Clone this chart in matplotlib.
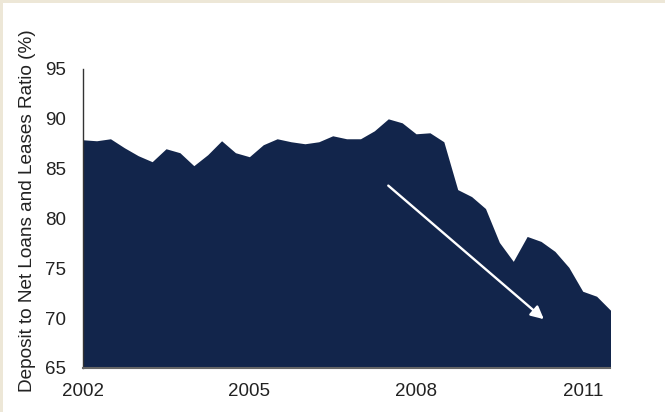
import matplotlib
matplotlib.use("Agg")
import matplotlib.pyplot as plt
from matplotlib.patches import Rectangle
import numpy as np

# Quarterly observations, 2002 Q1 .. 2011 Q3
values = [87.9, 87.8, 88.0, 87.1, 86.3, 85.7, 87.0, 86.6, 85.3, 86.4,
          87.8, 86.6, 86.2, 87.4, 88.0, 87.7, 87.5, 87.7, 88.3, 88.0,
          88.0, 88.8, 90.0, 89.6, 88.5, 88.6, 87.7, 82.9, 82.2, 81.0,
          77.6, 75.7, 78.2, 77.7, 76.7, 75.1, 72.7, 72.2, 70.8]
tick_labels = ["2002", "2005", "2008", "2011"]
tick_index = [0, 12, 24, 36]
ylabel = "Deposit to Net Loans and Leases Ratio (%)"
arrow_start = (22, 83.3)
arrow_end = (33.2, 69.9)

plt.rcParams['font.family'] = ['Liberation Sans', 'DejaVu Sans']

fig = plt.figure(figsize=(6.65, 4.12), dpi=100)
fig.patch.set_facecolor('white')
# beige frame strips (top and left)
fig.patches.append(Rectangle((0, 1 - 3/412), 1, 3/412, transform=fig.transFigure,
                             facecolor='#ede7d7', edgecolor='none', zorder=0))
fig.patches.append(Rectangle((0, 0), 3/665, 1, transform=fig.transFigure,
                             facecolor='#ede7d7', edgecolor='none', zorder=0))

ax = fig.add_axes([82.7/665, 1 - 368/412, (610.5 - 82.7)/665, (368 - 69)/412])
x = np.arange(len(values))
ax.fill_between(x, 65, values, color='#12254b', linewidth=0)
ax.set_xlim(0, len(values) - 1)
ax.set_ylim(65, 95)
ax.set_yticks([65, 70, 75, 80, 85, 90, 95])
ax.set_xticks(tick_index)
ax.set_xticklabels(tick_labels)
ax.tick_params(axis='both', length=0, labelsize=13.5, colors='#222222')
ax.tick_params(axis='y', pad=12)
ax.tick_params(axis='x', pad=11)
for s in ['top', 'right']:
    ax.spines[s].set_visible(False)
ax.spines['left'].set_color('#333333')
ax.spines['left'].set_linewidth(1.0)
ax.spines['bottom'].set_color('#666666')
ax.spines['bottom'].set_linewidth(1.5)
ax.set_ylabel(ylabel, fontsize=13.7, color='#222222', labelpad=6.5, y=0.525)

ax.annotate('', xy=arrow_end, xytext=arrow_start,
            arrowprops=dict(arrowstyle='-|>', color='white', lw=1.7,
                            mutation_scale=19, shrinkA=0, shrinkB=0))

fig.savefig('out.png', dpi=100)
